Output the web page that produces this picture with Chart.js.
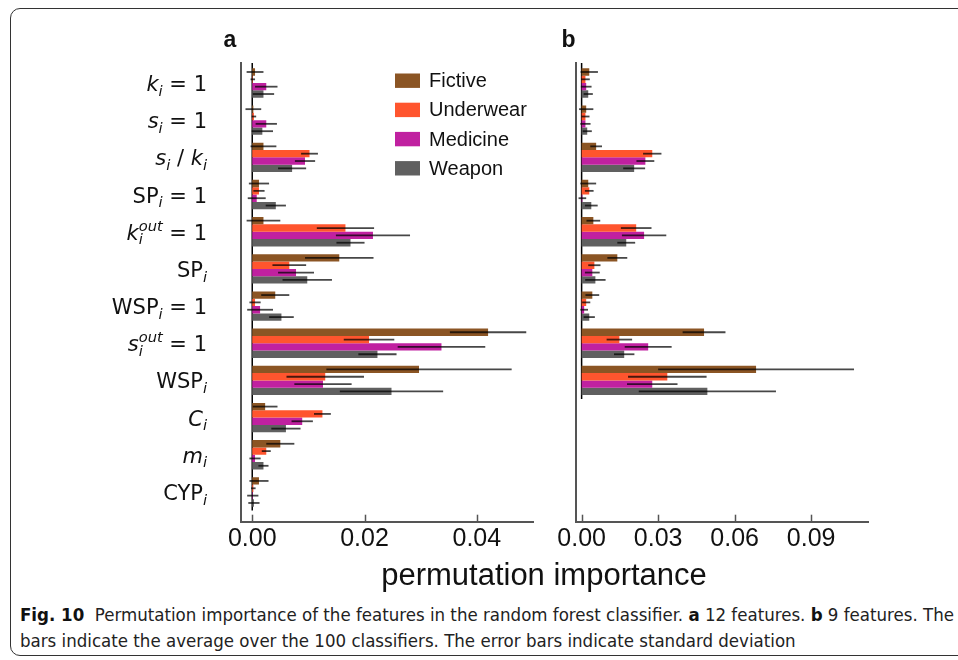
<!DOCTYPE html>
<html>
<head>
<meta charset="utf-8">
<script src="https://cdn.jsdelivr.net/npm/chart.js@4.4.0/dist/chart.umd.min.js"></script>
<style>
  html, body { margin: 0; padding: 0; background: #fff; overflow: hidden; }
  body { width: 958px; height: 660px; position: relative; }
  #frame { position: absolute; left: 10px; top: 8px; width: 1000px; height: 646px;
           border: 1.5px solid #333; border-radius: 10px; }
  canvas { position: absolute; top: 0; }
  #chartA { left: 0; }
  #chartB { left: 545px; }
  #xlabel { position: absolute; left: 244px; width: 600px; top: 559px; text-align: center;
            font: 31px/31px "Liberation Sans", Arial, sans-serif; color: #111; }
  #caption { position: absolute; left: 20px; top: 602px; white-space: nowrap; color: #222;
             font: 18.5px/26px "Liberation Sans Narrow", "DejaVu Sans Condensed", sans-serif; }
  #caption b { color: #111; }
</style>
</head>
<body>
<div id="frame"></div>
<canvas id="chartA" width="545" height="600"></canvas>
<canvas id="chartB" width="413" height="600"></canvas>
<div id="xlabel">permutation importance</div>
<div id="caption"><b>Fig. 10</b>&nbsp; Permutation importance of the features in the random forest classifier. <b>a</b> 12 features. <b>b</b> 9 features. The<br>bars indicate the average over the 100 classifiers. The error bars indicate standard deviation</div>
<script>
// feature names: *x* = italic, _{..} subscript, ^{..} superscript
const features = ['*k*_{i} = 1', '*s*_{i} = 1', '*s*_{i} / *k*_{i}', 'SP_{i} = 1', '*k*_{i}^{out} = 1', 'SP_{i}',
                  'WSP_{i} = 1', '*s*_{i}^{out} = 1', 'WSP_{i}', '*C*_{i}', '*m*_{i}', 'CYP_{i}'];
const seriesNames = ['Fictive', 'Underwear', 'Medicine', 'Weapon'];
const seriesColors = ['#8b5524', '#ff552e', '#c021a0', '#606060'];

// a: 12 features
const fictiveA   = [0.0005, 0.0002, 0.0020, 0.0012, 0.0020, 0.0155, 0.0041, 0.0420, 0.0297, 0.0023, 0.0050, 0.0012];
const underwearA = [0.0001, 0.0003, 0.0102, 0.0012, 0.0166, 0.0066, 0.0005, 0.0208, 0.0130, 0.0125, 0.0025, 0.0002];
const medicineA  = [0.0025, 0.0025, 0.0094, 0.0008, 0.0215, 0.0078, 0.0014, 0.0337, 0.0126, 0.0089, 0.0005, 0.0001];
const weaponA    = [0.0020, 0.0018, 0.0071, 0.0042, 0.0175, 0.0098, 0.0052, 0.0223, 0.0248, 0.0060, 0.0020, 0.0003];
const fictiveSdA   = [0.0015, 0.0014, 0.0023, 0.0018, 0.0030, 0.0061, 0.0025, 0.0068, 0.0165, 0.0022, 0.0025, 0.0017];
const underwearSdA = [0.0004, 0.0004, 0.0015, 0.0010, 0.0051, 0.0030, 0.0010, 0.0045, 0.0069, 0.0015, 0.0008, 0.0004];
const medicineSdA  = [0.0020, 0.0019, 0.0018, 0.0016, 0.0066, 0.0032, 0.0023, 0.0078, 0.0051, 0.0019, 0.0010, 0.0010];
const weaponSdA    = [0.0019, 0.0019, 0.0025, 0.0018, 0.0025, 0.0044, 0.0022, 0.0034, 0.0092, 0.0026, 0.0009, 0.0010];

// b: 9 features
const fictiveB   = [0.0030, 0.0018, 0.0057, 0.0026, 0.0046, 0.0140, 0.0042, 0.0480, 0.0684];
const underwearB = [0.0015, 0.0015, 0.0277, 0.0030, 0.0214, 0.0050, 0.0018, 0.0148, 0.0336];
const medicineB  = [0.0018, 0.0015, 0.0250, 0.0003, 0.0245, 0.0042, 0.0010, 0.0261, 0.0277];
const weaponB    = [0.0026, 0.0022, 0.0206, 0.0038, 0.0175, 0.0054, 0.0030, 0.0167, 0.0493];
const fictiveSdB   = [0.0034, 0.0028, 0.0023, 0.0031, 0.0027, 0.0039, 0.0027, 0.0084, 0.0384];
const underwearSdB = [0.0017, 0.0016, 0.0036, 0.0017, 0.0060, 0.0024, 0.0016, 0.0050, 0.0154];
const medicineSdB  = [0.0021, 0.0020, 0.0035, 0.0015, 0.0087, 0.0029, 0.0015, 0.0092, 0.0099];
const weaponSdB    = [0.0018, 0.0018, 0.0043, 0.0025, 0.0035, 0.0040, 0.0022, 0.0040, 0.0269];

const ticksA = [0, 0.02, 0.04];
const ticksB = [0, 0.03, 0.06, 0.09];

const SPINE = '#555';

function parseLabel(src) {
  const runs = [];
  let italic = false, buf = '', i = 0;
  const flush = () => { if (buf) { runs.push({ text: buf, italic, shift: 0 }); buf = ''; } };
  while (i < src.length) {
    const c = src[i];
    if (c === '*') { flush(); italic = !italic; i++; }
    else if ((c === '_' || c === '^') && src[i + 1] === '{') {
      flush();
      const end = src.indexOf('}', i);
      runs.push({ text: src.slice(i + 2, end), italic: true, shift: c === '_' ? -1 : 1 });
      i = end + 1;
    } else { buf += c; i++; }
  }
  flush();
  return runs;
}

function drawMathLabel(ctx, src, right, baseline, size) {
  const runs = parseLabel(src);
  const fontFor = r => (r.italic ? 'italic ' : '') + (r.shift ? size * 0.7 : size) + 'px "DejaVu Sans"';
  const items = [];
  let x = 0, scriptStart = null, scriptWidth = 0;
  runs.forEach(r => {
    ctx.font = fontFor(r);
    const w = ctx.measureText(r.text).width;
    if (r.shift) {
      // sub and superscript after the same base stack on top of each other
      if (scriptStart === null) { scriptStart = x; scriptWidth = 0; }
      items.push({ r, x: scriptStart });
      scriptWidth = Math.max(scriptWidth, w);
      x = scriptStart + scriptWidth;
    } else {
      scriptStart = null;
      items.push({ r, x });
      x += w;
    }
  });
  const left = right - x;
  ctx.textAlign = 'left';
  ctx.textBaseline = 'alphabetic';
  items.forEach(({ r, x: ix }) => {
    ctx.font = fontFor(r);
    const dy = r.shift < 0 ? size * 0.22 : (r.shift > 0 ? -size * 0.42 : 0);
    ctx.fillText(r.text, left + ix, baseline + dy);
  });
}

function makePanelPlugin(cfg) {
  return {
    id: 'panel',
    beforeDatasetsDraw(chart) {
      // vertical line at zero, over the rows that carry bars
      const { ctx, chartArea } = chart;
      const xs = chart.scales.x, ys = chart.scales.y;
      const x0 = xs.getPixelForValue(0);
      ctx.save();
      ctx.strokeStyle = '#000';
      ctx.lineWidth = 1.5;
      ctx.beginPath();
      ctx.moveTo(x0, chartArea.top);
      ctx.lineTo(x0, ys.getPixelForValue(cfg.count - 0.5));
      ctx.stroke();
      ctx.restore();
    },
    afterDatasetsDraw(chart) {
      const { ctx } = chart;
      const xs = chart.scales.x;
      ctx.save();
      ctx.strokeStyle = 'rgba(0,0,0,0.72)';
      ctx.lineWidth = 1.8;
      chart.data.datasets.forEach((ds, s) => {
        const meta = chart.getDatasetMeta(s);
        meta.data.forEach((bar, i) => {
          const v = ds.data[i].x, sd = cfg.errors[s][i];
          ctx.beginPath();
          ctx.moveTo(xs.getPixelForValue(v - sd), bar.y);
          ctx.lineTo(xs.getPixelForValue(v + sd), bar.y);
          ctx.stroke();
        });
      });
      ctx.restore();
    },
    afterDraw(chart) {
      const { ctx, chartArea } = chart;
      const xs = chart.scales.x, ys = chart.scales.y;
      ctx.save();
      // inward tick marks
      ctx.strokeStyle = SPINE;
      ctx.lineWidth = 1.5;
      xs.ticks.forEach(t => {
        const px = Math.round(xs.getPixelForValue(t.value)) + 0.5;
        ctx.beginPath();
        ctx.moveTo(px, chartArea.bottom);
        ctx.lineTo(px, chartArea.bottom - 7);
        ctx.stroke();
      });
      // panel letter
      ctx.fillStyle = '#111';
      ctx.font = 'bold 23px "Liberation Sans", Arial, sans-serif';
      ctx.textAlign = 'center';
      ctx.textBaseline = 'alphabetic';
      ctx.fillText(cfg.letter, chartArea.left + cfg.letterDx, 47);
      if (cfg.labels) {
        ctx.fillStyle = '#111';
        features.forEach((f, i) => {
          drawMathLabel(ctx, f, chartArea.left - 34, ys.getPixelForValue(i) + 8, 21);
        });
      }
      if (cfg.legend) {
        const lx = chartArea.left + 154;
        ctx.font = '20px "Liberation Sans", Arial, sans-serif';
        ctx.textAlign = 'left';
        ctx.textBaseline = 'middle';
        seriesNames.forEach((name, s) => {
          const cy = 80.7 + s * 29.2;
          ctx.fillStyle = seriesColors[s];
          ctx.fillRect(lx, cy - 7.2, 25, 14.4);
          ctx.fillStyle = '#111';
          ctx.fillText(name, lx + 34, cy + 1);
        });
      }
      ctx.restore();
    }
  };
}

function buildChart(id, values, errors, count, xMin, xMax, tickVals, padding, extra) {
  const datasets = seriesNames.map((name, s) => ({
    label: name,
    data: values[s].map((v, i) => ({ x: v, y: i })),
    backgroundColor: seriesColors[s],
    borderWidth: 0,
    categoryPercentage: 0.79,
    barPercentage: 1.0
  }));
  return new Chart(document.getElementById(id), {
    type: 'bar',
    data: { datasets },
    options: {
      indexAxis: 'y',
      responsive: false,
      animation: false,
      layout: { padding },
      plugins: { legend: { display: false }, tooltip: { enabled: false } },
      scales: {
        x: {
          type: 'linear',
          position: 'bottom',
          min: xMin,
          max: xMax,
          afterBuildTicks: scale => { scale.ticks = tickVals.map(v => ({ value: v })); },
          afterFit: scale => { scale.height = 78.3; },
          grid: { display: false, drawTicks: false },
          border: { display: true, color: SPINE, width: 2 },
          ticks: {
            autoSkip: false,
            maxRotation: 0,
            padding: 2,
            color: '#111',
            font: { family: '"Liberation Sans", Arial, sans-serif', size: 25 },
            callback: v => v.toFixed(2)
          }
        },
        y: {
          type: 'linear',
          reverse: true,
          offset: false,
          min: -0.538,
          max: 11.8,
          // one tick per feature row, so bar thickness follows the row pitch
          afterBuildTicks: scale => { scale.ticks = features.map((f, i) => ({ value: i })); },
          afterFit: scale => { scale.width = 0; },
          grid: { display: false, drawTicks: false, offset: false },
          border: { display: true, color: SPINE, width: 2 },
          ticks: { display: false }
        }
      }
    },
    plugins: [makePanelPlugin(Object.assign({ errors, count }, extra))]
  });
}

buildChart('chartA',
  [fictiveA, underwearA, medicineA, weaponA],
  [fictiveSdA, underwearSdA, medicineSdA, weaponSdA],
  features.length, -0.002, 0.05, ticksA,
  { left: 241, top: 63, right: 12, bottom: 0 },
  { letter: 'a', letterDx: -11, labels: true, legend: true });

buildChart('chartB',
  [fictiveB, underwearB, medicineB, weaponB],
  [fictiveSdB, underwearSdB, medicineSdB, weaponSdB],
  fictiveB.length, -0.0022, 0.1124, ticksB,
  { left: 31, top: 63, right: 89.7, bottom: 0 },
  { letter: 'b', letterDx: -7.5, labels: false, legend: false });
</script>
</body>
</html>
